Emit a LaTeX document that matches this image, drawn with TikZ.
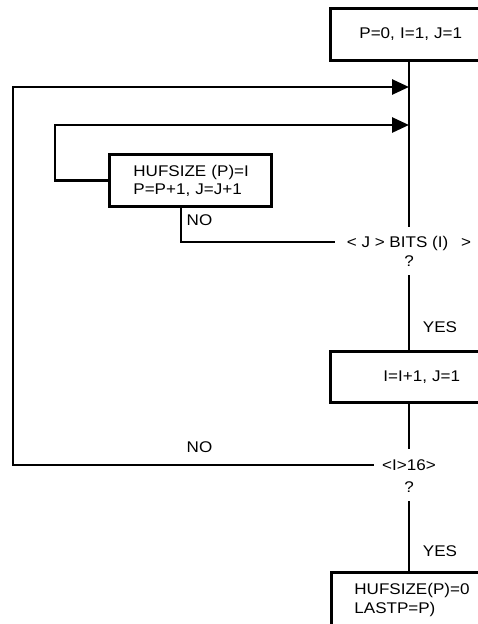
\documentclass[tikz,border=0pt]{standalone}
\usepackage{fontspec}
\setmainfont[FakeStretch=1.1]{Liberation Sans}
\usetikzlibrary{arrows.meta,calc}
\begin{document}
\begin{tikzpicture}[x=1pt,y=-1pt,
  line width=2.8pt,
  every node/.style={font=\fontsize{15.5}{18}\selectfont},
  box/.style={draw, line width=2.8pt, rectangle, anchor=north west, align=left},
  lbl/.style={inner sep=0pt},
  dec/.style={text height=11.3pt, text depth=0.2pt},
  arr/.style={-{Triangle[length=17pt,width=15pt]}}]
\useasboundingbox (0,0) rectangle (478,624);
\clip (0,0) rectangle (478,624);
% boxes
\node[box, inner xsep=29pt, text width=113pt, minimum height=52pt] (top) at (329,7) {P=0, I=1, J=1};
\node[box, inner xsep=24pt, text width=114pt, minimum height=52pt] (huf) at (108,153) {\mbox{HUFSIZE (P)=I}\\\mbox{P=P+1, J=J+1}};
\node[box, inner xsep=53pt, text width=100pt, minimum height=51pt] (inc) at (329,350) {I=I+1, J=1};
\node[box, inner xsep=23pt, inner ysep=11.2pt, text width=150pt, font=\fontsize{15.5}{19}\selectfont] (fin) at (330,571) {HUFSIZE(P)=0\\LASTP=P)\\[40pt]\mbox{}};
% decisions
\node[dec, inner xsep=10.6pt, inner ysep=8.25pt] (d1) at (409,242) {< J > BITS (I)\hspace{13pt}>};
\node[dec, inner xsep=2pt, inner ysep=7.25pt] (d1q) at (409,261) {?};
\node[dec, inner xsep=7.2pt, inner ysep=9.25pt] (d2) at (409,465) {<I>16>};
\node[dec, inner xsep=2pt, inner ysep=7.25pt] (d2q) at (409,487) {?};
% labels
\node[lbl] (no1) at (199.5,220) {NO};
\node[lbl] (no2) at (199.5,447) {NO};
\node[lbl] (yes1) at (440,327) {YES};
\node[lbl] (yes2) at (440,551) {YES};
% coordinates
\coordinate (m1) at (409,87);
\coordinate (m2) at (409,125);
\coordinate (c1) at (13,87);
\coordinate (c2) at (55,125);
% connectors
\draw (d1.north |- top.south) -- (d1.north);
\draw (d1q.south) -- (d1q.south |- inc.north);
\draw (d2.north |- inc.south) -- (d2.north);
\draw (d2q.south) -- (d2q.south |- fin.north);
\draw[arr] (d2.west) -| (c1) -- (m1);
\draw[arr] (huf.west) -| (c2) -- (m2);
\draw ([xshift=73pt]huf.south west) |- (d1.west);
\end{tikzpicture}
\end{document}
